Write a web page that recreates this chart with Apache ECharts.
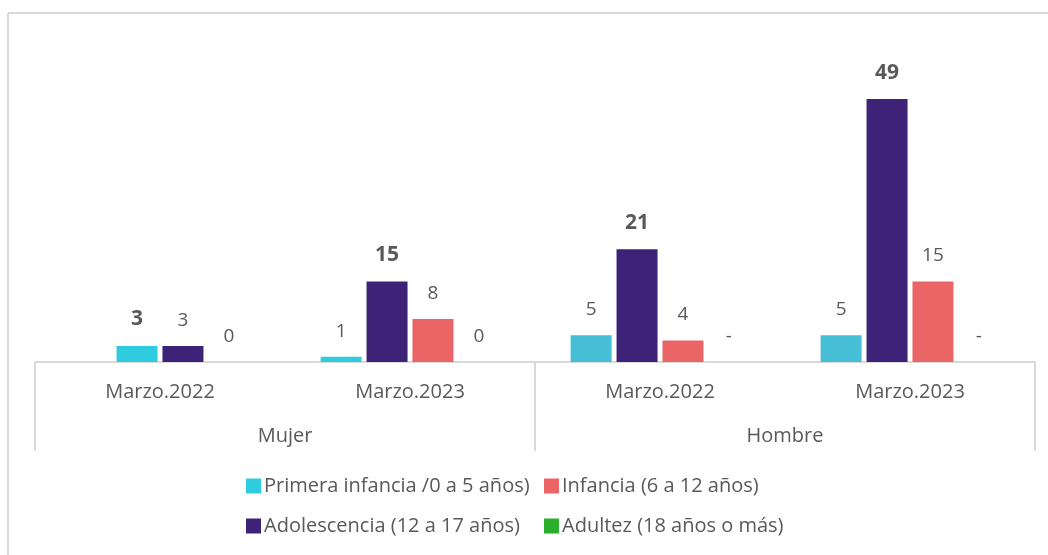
<!DOCTYPE html>
<html>
<head>
<meta charset="utf-8">
<script src="https://cdn.jsdelivr.net/npm/echarts@6/dist/echarts.min.js"></script>
<style>
  html, body { margin: 0; padding: 0; background: #ffffff; }
  #chart { width: 1048px; height: 555px; }
</style>
</head>
<body>
<div id="chart"></div>
<script>
// Period labels (inner axis) and sex groups (outer axis)
const periods = ['Marzo.2022', 'Marzo.2023', 'Marzo.2022', 'Marzo.2023'];
const groups = ['Mujer', 'Hombre'];

// Series names
const nPrimera = 'Primera infancia /0 a 5 años)';
const nInfancia = 'Infancia (6 a 12 años)';
const nAdolescencia = 'Adolescencia (12 a 17 años)';
const nAdultez = 'Adultez (18 años o más)';

// Values per category: Mujer 2022, Mujer 2023, Hombre 2022, Hombre 2023
const primeraInfancia = [null, 1, 5, 5];
const adolescencia = [3, 15, 21, 49];
const infancia = [3, 8, 4, 15];
const adultez = [0, 0, 0, 0];
const adultezLabels = ['0', '0', '-', '-'];

const cCyan = '#2ECCDE';
const cCyanH = '#46BED6';
const cPurple = '#3D2277';
const cRed = '#EB6567';
const cGreen = '#2BAE2B';
const textGray = '#595959';
const lineGray = '#D9D9D9';
const font = 'Open Sans';

// Per-point colours: first Mujer period has its two bars drawn in cyan / purple order
const primeraColors = [cCyan, cCyan, cCyanH, cCyanH];
const adolescenciaColors = [cCyan, cPurple, cPurple, cPurple];
const infanciaColors = [cPurple, cRed, cRed, cRed];

function withColors(values, colors) {
  return values.map((v, i) => ({ value: v, itemStyle: { color: colors[i] } }));
}

const labelBase = {
  show: true,
  position: 'top',
  distance: 16,
  color: textGray,
  fontFamily: font,
  fontSize: 19
};

const chart = echarts.init(document.getElementById('chart'), null, { renderer: 'canvas' });

const legendCommon = {
  orient: 'horizontal',
  padding: 0,
  itemWidth: 15,
  itemHeight: 15,
  itemGap: 4,
  icon: 'rect',
  selectedMode: false,
  textStyle: { color: textGray, fontFamily: font, fontSize: 20, padding: [0, 0, 0, -2] }
};

chart.setOption({
  animation: false,
  backgroundColor: '#ffffff',
  textStyle: { fontFamily: font },
  grid: { left: 35, right: 13, top: 40, bottom: 193, containLabel: false },
  legend: [
    Object.assign({ left: 246, top: 476, data: [nPrimera] }, legendCommon),
    Object.assign({ left: 544, top: 476, data: [nInfancia] }, legendCommon),
    Object.assign({ left: 246, top: 516, data: [nAdolescencia] }, legendCommon),
    Object.assign({ left: 544, top: 516, data: [nAdultez] }, legendCommon)
  ],
  xAxis: [
    {
      type: 'category',
      data: periods,
      position: 'bottom',
      axisLine: { show: true, lineStyle: { color: lineGray, width: 2 } },
      axisTick: { show: false },
      axisLabel: { color: textGray, fontFamily: font, fontSize: 20, margin: 20 },
      splitLine: { show: false }
    },
    {
      type: 'category',
      data: groups,
      position: 'bottom',
      axisLine: { show: false },
      axisTick: { show: true, length: 89, lineStyle: { color: lineGray, width: 2 } },
      axisLabel: { color: textGray, fontFamily: font, fontSize: 20, margin: 64 },
      splitLine: { show: false }
    }
  ],
  yAxis: {
    type: 'value',
    min: 0,
    max: 60,
    show: false,
    splitLine: { show: false }
  },
  series: [
    {
      name: nPrimera,
      type: 'bar',
      xAxisIndex: 0,
      barWidth: 41,
      barGap: '12%',
      itemStyle: { color: cCyan },
      data: withColors(primeraInfancia, primeraColors),
      label: labelBase
    },
    {
      name: nAdolescencia,
      type: 'bar',
      xAxisIndex: 0,
      barWidth: 41,
      barGap: '12%',
      itemStyle: { color: cPurple },
      data: withColors(adolescencia, adolescenciaColors),
      label: Object.assign({}, labelBase, { fontWeight: 'bold', fontSize: 21 })
    },
    {
      name: nInfancia,
      type: 'bar',
      xAxisIndex: 0,
      barWidth: 41,
      barGap: '12%',
      itemStyle: { color: cRed },
      data: withColors(infancia, infanciaColors),
      label: labelBase
    },
    {
      name: nAdultez,
      type: 'bar',
      xAxisIndex: 0,
      barWidth: 41,
      barGap: '12%',
      itemStyle: { color: cGreen },
      data: adultez,
      label: Object.assign({}, labelBase, {
        formatter: (p) => adultezLabels[p.dataIndex]
      })
    }
  ],
  graphic: [
    // Outer frame: top and left edges
    {
      type: 'line',
      shape: { x1: 8, y1: 13, x2: 1048, y2: 13 },
      style: { stroke: lineGray, lineWidth: 2 },
      silent: true
    },
    {
      type: 'line',
      shape: { x1: 8, y1: 13, x2: 8, y2: 555 },
      style: { stroke: lineGray, lineWidth: 2 },
      silent: true
    }
  ]
});
</script>
</body>
</html>
